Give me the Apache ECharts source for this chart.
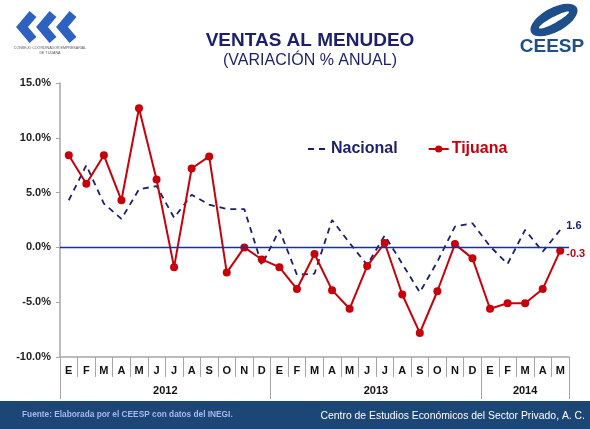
<!doctype html>
<html>

<head>
    <meta charset="utf-8">
    <title>Ventas al menudeo</title>
    <style>
        html, body {
            margin: 0;
            padding: 0;
            background: #fff;
        }

        #chart {
            width: 590px;
            height: 429px;
        }
    </style>
</head>

<body>
    <div id="chart"></div>
    <script src="https://cdn.jsdelivr.net/npm/echarts@6/dist/echarts.min.js"></script>
    <script>
        var monthNames = ['E', 'F', 'M', 'A', 'M', 'J', 'J', 'A', 'S', 'O', 'N', 'D'];
        var years = ['2012', '2013', '2014'];
        var monthsPerYear = [12, 12, 5];
        var nacional = [4.3, 7.5, 4.0, 2.6, 5.3, 5.6, 2.7, 4.8, 3.9, 3.5, 3.5, -1.6,
            1.6, -2.5, -2.4, 2.5, 0.4, -1.6, 1.1, -1.5, -4.1, -1.3, 1.9, 2.2,
            0.1, -1.5, 1.6, -0.4, 1.6];
        var tijuana = [8.4, 5.8, 8.4, 4.3, 12.7, 6.2, -1.8, 7.2, 8.3, -2.3, 0.0, -1.1,
            -1.8, -3.8, -0.6, -3.9, -5.6, -1.7, 0.4, -4.3, -7.8, -4.0, 0.3, -1.0,
            -5.6, -5.1, -5.1, -3.8, -0.3];

        var font = '"Liberation Sans", Arial, sans-serif';
        var navy = '#1b1f6e';
        var red = '#c8000a';
        var gray = '#a6a6a6';
        var logoBlue = '#2d62c0';

        // categories: one per month, keyed with the year so they stay unique
        var categories = [];
        var yearTicks = [0];
        var yearCenters = [];
        var pos = 0;
        for (var y = 0; y < years.length; y++) {
            for (var m = 0; m < monthsPerYear[y]; m++) {
                categories.push(monthNames[m] + '|' + years[y]);
            }
            yearCenters.push(pos + monthsPerYear[y] / 2);
            pos += monthsPerYear[y];
            yearTicks.push(pos);
        }

        var endLabel = function (color, offset) {
            return {
                show: true, distance: 6, offset: offset, color: color,
                fontFamily: font, fontWeight: 'bold', fontSize: 11,
                formatter: function (p) { return p.value.toFixed(1); }
            };
        };

        // rough chevrons for the left logo
        var chevron = function (x) {
            return {
                type: 'polyline',
                shape: { points: [[x + 17, 14], [x + 6, 27], [x + 17, 40]] },
                style: { stroke: logoBlue, lineWidth: 9, fill: null, lineJoin: 'miter' }
            };
        };

        var myChart = echarts.init(document.getElementById('chart'));
        var option = {
            animation: false,
            backgroundColor: '#fff',
            title: {
                text: 'VENTAS AL MENUDEO',
                subtext: '(VARIACIÓN % ANUAL)',
                left: 305,
                top: 26,
                textAlign: 'center',
                itemGap: 3,
                textStyle: { fontFamily: font, fontSize: 19, fontWeight: 'bold', color: navy },
                subtextStyle: { fontFamily: font, fontSize: 16, color: navy }
            },
            legend: {
                left: 302,
                top: 136,
                itemGap: 30,
                itemWidth: 20,
                itemHeight: 9,
                data: [
                    { name: 'Nacional', itemStyle: { opacity: 0 }, textStyle: { color: navy } },
                    { name: 'Tijuana', textStyle: { color: red } }
                ],
                textStyle: { fontFamily: font, fontSize: 16, fontWeight: 'bold', padding: [0, 0, 0, -2] }
            },
            grid: { left: 60, right: 21, top: 83, bottom: 72 },
            xAxis: [
                {
                    type: 'category',
                    data: categories,
                    boundaryGap: true,
                    axisLine: { onZero: false, lineStyle: { color: gray, width: 1.5 } },
                    axisTick: { show: true, interval: 0, length: 20, lineStyle: { color: gray } },
                    axisLabel: {
                        interval: 0, margin: 8,
                        fontFamily: font, fontSize: 11, fontWeight: 'bold', color: '#111',
                        formatter: function (v) { return v.split('|')[0]; }
                    }
                },
                {
                    type: 'value',
                    position: 'bottom',
                    min: 0,
                    max: yearTicks[yearTicks.length - 1],
                    axisLine: { show: false, onZero: false },
                    splitLine: { show: false },
                    axisTick: { show: true, length: 42, customValues: yearTicks, lineStyle: { color: gray } },
                    axisLabel: {
                        margin: 28, customValues: yearCenters,
                        fontFamily: font, fontSize: 11, fontWeight: 'bold', color: '#111',
                        formatter: function (v) { return years[yearCenters.indexOf(v)]; }
                    }
                }
            ],
            yAxis: {
                type: 'value',
                min: -10,
                max: 15,
                interval: 5,
                axisLine: { show: true, lineStyle: { color: gray, width: 1.5 } },
                axisTick: { show: true, length: 4, lineStyle: { color: gray } },
                splitLine: { show: false },
                axisLabel: {
                    margin: 9,
                    fontFamily: font, fontSize: 11, fontWeight: 'bold', color: '#222',
                    formatter: function (v) { return v.toFixed(1) + '%'; }
                }
            },
            series: [
                {
                    name: 'Nacional',
                    type: 'line',
                    data: nacional,
                    symbol: 'none',
                    lineStyle: { color: navy, width: 1.8, type: [6, 5] },
                    itemStyle: { color: navy },
                    endLabel: endLabel(navy, [0, -4]),
                    z: 3
                },
                {
                    name: 'Tijuana',
                    type: 'line',
                    data: tijuana,
                    symbol: 'circle',
                    symbolSize: 8,
                    lineStyle: { color: red, width: 2 },
                    itemStyle: { color: red },
                    endLabel: endLabel(red, [0, 3]),
                    markLine: {
                        silent: true,
                        symbol: 'none',
                        label: { show: false },
                        lineStyle: { color: '#1a2ea0', width: 1.3, type: 'solid' },
                        data: [{ yAxis: 0 }]
                    },
                    z: 4
                }
            ],
            graphic: [
                // left logo (rough)
                chevron(16), chevron(36), chevron(56),
                { type: 'text', x: 50, y: 46, style: { text: 'CONSEJO COORDINADOR EMPRESARIAL', align: 'center', fontSize: 3.6, fill: '#555', fontFamily: font } },
                { type: 'text', x: 50, y: 51, style: { text: 'DE TIJUANA', align: 'center', fontSize: 3.6, fill: '#555', fontFamily: font } },
                // right logo (rough)
                { type: 'ellipse', shape: { cx: 554, cy: 20, rx: 26, ry: 12 }, rotation: 0.5, originX: 554, originY: 20, style: { fill: '#1f4f8a' } },
                { type: 'ellipse', shape: { cx: 554, cy: 20, rx: 17, ry: 3 }, rotation: 0.5, originX: 554, originY: 20, style: { fill: '#fff' } },
                { type: 'text', x: 552, y: 47, style: { text: 'CEESP', align: 'center', verticalAlign: 'middle', fontSize: 19, fontWeight: 'bold', fill: '#1f4f8a', fontFamily: '"Liberation Sans Narrow", ' + font } },
                // footer band
                { type: 'rect', shape: { x: 0, y: 401, width: 590, height: 28 }, style: { fill: '#1c4676' } },
                { type: 'text', x: 22, y: 415, style: { text: 'Fuente: Elaborada por el CEESP con datos del INEGI.', verticalAlign: 'middle', fontSize: 8.3, fontWeight: 'bold', fill: '#a9b8ee', fontFamily: font } },
                { type: 'text', x: 585, y: 416, style: { text: 'Centro de Estudios Económicos del Sector Privado, A. C.', align: 'right', verticalAlign: 'middle', fontSize: 10.4, fill: '#fff', fontFamily: font } }
            ]
        };
        myChart.setOption(option);
    </script>
</body>

</html>
